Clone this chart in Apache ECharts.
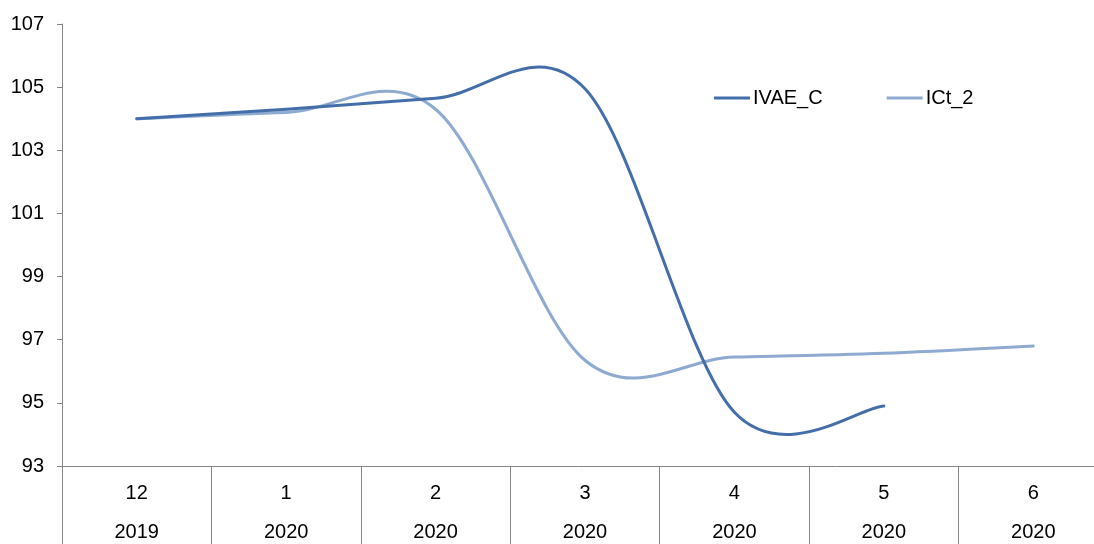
<!DOCTYPE html>
<html>
<head>
<meta charset="utf-8">
<script src="https://cdn.jsdelivr.net/npm/echarts@6/dist/echarts.min.js"></script>
<style>html,body{margin:0;padding:0;background:#fff}#c{width:1094px;height:544px}</style>
</head>
<body>
<div id="c"></div>
<script>
const months = ['12', '1', '2', '3', '4', '5', '6'];
const years = ['2019', '2020', '2020', '2020', '2020', '2020', '2020'];
const ivaeC = [104.0, 104.3, 104.65, 104.95, 94.7, 94.9];
const ict2 = [104.0, 104.2, 104.3, 96.35, 96.45, 96.57, 96.8];
const yTicks = { min: 93, max: 107, interval: 2 };

const FONT = '"Liberation Sans", Arial, sans-serif';
const DARK = '#446ea9';
const LIGHT = '#8faad1';

// Excel-like smoothed curve (Catmull-Rom bezier) through data points, positioned by the axes
function smoothRenderer(values, color) {
  return function (params, api) {
    if (params.dataIndex !== 0) return null;
    const pts = values.map((v, i) => api.coord([i, v]));
    const n = pts.length;
    let d = 'M' + pts[0][0] + ' ' + pts[0][1];
    for (let i = 0; i < n - 1; i++) {
      const p0 = pts[Math.max(i - 1, 0)];
      const p1 = pts[i];
      const p2 = pts[i + 1];
      const p3 = pts[Math.min(i + 2, n - 1)];
      const c1x = p1[0] + (p2[0] - p0[0]) / 6;
      const c1y = p1[1] + (p2[1] - p0[1]) / 6;
      const c2x = p2[0] - (p3[0] - p1[0]) / 6;
      const c2y = p2[1] - (p3[1] - p1[1]) / 6;
      d += ' C' + c1x + ' ' + c1y + ' ' + c2x + ' ' + c2y + ' ' + p2[0] + ' ' + p2[1];
    }
    return {
      type: 'path',
      shape: { pathData: d },
      style: { stroke: color, lineWidth: 3, fill: 'none', lineCap: 'round' }
    };
  };
}

const chart = echarts.init(document.getElementById('c'), null, { renderer: 'canvas' });
chart.setOption({
  animation: false,
  backgroundColor: '#fff',
  grid: { left: 62, right: -14, top: 24, bottom: 78, containLabel: false, outerBoundsMode: 'none' },
  legend: {
    data: ['IVAE_C', 'ICt_2'],
    left: 709,
    top: 83,
    icon: 'rect',
    itemWidth: 36,
    itemHeight: 3,
    itemGap: 64,
    textStyle: { fontFamily: FONT, fontSize: 20, color: '#000', padding: [0, 0, 0, -2] }
  },
  xAxis: {
    type: 'category',
    data: months.map((m, i) => m + '\n' + years[i]),
    boundaryGap: true,
    axisLine: { lineStyle: { color: '#868686', width: 1 } },
    axisTick: { show: true, interval: 0, length: 80, lineStyle: { color: '#868686', width: 1 } },
    axisLabel: {
      interval: 0, margin: 8, fontFamily: FONT, fontSize: 20, color: '#000', lineHeight: 39
    },
    splitLine: { show: false }
  },
  yAxis: {
    type: 'value',
    min: yTicks.min,
    max: yTicks.max,
    interval: yTicks.interval,
    axisLine: { show: true, lineStyle: { color: '#868686', width: 1 } },
    axisTick: { show: true, length: 5, lineStyle: { color: '#868686', width: 1 } },
    axisLabel: { margin: 18, fontFamily: FONT, fontSize: 20, color: '#000' },
    splitLine: { show: false }
  },
  series: [
    {
      name: 'IVAE_C',
      type: 'custom',
      coordinateSystem: 'cartesian2d',
      itemStyle: { color: DARK },
      encode: { x: 0, y: 1 },
      data: ivaeC.map((v, i) => [i, v]),
      renderItem: smoothRenderer(ivaeC, DARK),
      z: 3
    },
    {
      name: 'ICt_2',
      type: 'custom',
      coordinateSystem: 'cartesian2d',
      itemStyle: { color: LIGHT },
      encode: { x: 0, y: 1 },
      data: ict2.map((v, i) => [i, v]),
      renderItem: smoothRenderer(ict2, LIGHT),
      z: 2
    }
  ]
});
</script>
</body>
</html>
